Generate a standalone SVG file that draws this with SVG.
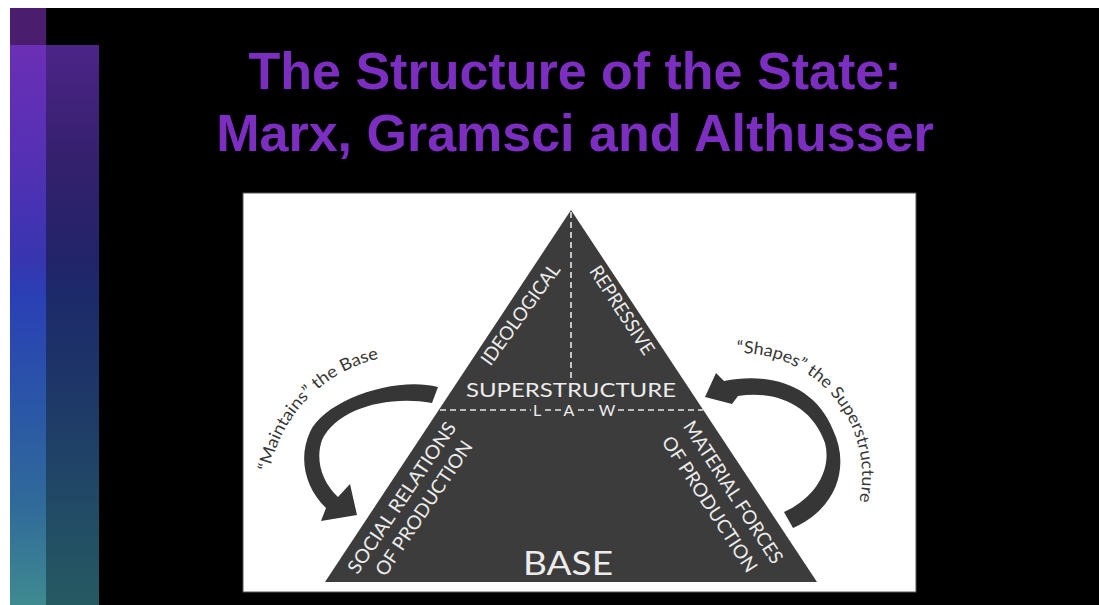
<svg xmlns="http://www.w3.org/2000/svg" width="1099" height="605" viewBox="0 0 1099 605">
  <style>
    .title { font-family: "Liberation Sans", Arial, sans-serif; font-weight: bold; font-size: 52px; fill: #7b2ec0; text-anchor: middle; }
    .tri { font-family: Lato, "Open Sans", sans-serif; fill: #ececec; text-anchor: middle; }
    .lbl { font-size: 19px; }
    .arc { font-family: Lato, "Open Sans", sans-serif; font-size: 17px; fill: #383838; }
    .dash { stroke: #e6e6e6; stroke-width: 1.6; stroke-dasharray: 6 4; fill: none; }
    .arrow { fill: #363636; }
  </style>
  <defs>
    <linearGradient id="gBright" x1="0" y1="0" x2="0" y2="1">
      <stop offset="0" stop-color="#6b2fb5"/>
      <stop offset="0.2" stop-color="#5530b5"/>
      <stop offset="0.38" stop-color="#3835b0"/>
      <stop offset="0.45" stop-color="#2a40b5"/>
      <stop offset="0.63" stop-color="#2a55a8"/>
      <stop offset="0.82" stop-color="#306a9a"/>
      <stop offset="1" stop-color="#3f8a90"/>
    </linearGradient>
    <linearGradient id="gDark" x1="0" y1="0" x2="0" y2="1">
      <stop offset="0" stop-color="#4c2488"/>
      <stop offset="0.2" stop-color="#35206e"/>
      <stop offset="0.38" stop-color="#22246a"/>
      <stop offset="0.45" stop-color="#1c2a6a"/>
      <stop offset="0.63" stop-color="#1e3868"/>
      <stop offset="0.82" stop-color="#214a66"/>
      <stop offset="1" stop-color="#265a62"/>
    </linearGradient>
    <path id="arcLeft" d="M 269.6,471.5 A 144 144 0 0 1 411,355"/>
    <path id="arcRight" d="M 736.9,353 A 123 123 0 0 1 854.6,518.1"/>
  </defs>

  <rect x="0" y="0" width="1099" height="605" fill="#ffffff"/>
  <rect x="10" y="8" width="1089" height="597" fill="#000000"/>

  <g id="sidebar">
    <rect x="10" y="8" width="36" height="37" fill="#4a1d6e"/>
    <rect x="10" y="45" width="36" height="560" fill="url(#gBright)"/>
    <rect x="46" y="45" width="53" height="560" fill="url(#gDark)"/>
  </g>

  <g id="title">
    <text class="title" x="575" y="89">The Structure of the State:</text>
    <text class="title" x="575" y="151">Marx, Gramsci and Althusser</text>
  </g>

  <rect id="panel" x="243" y="193" width="673" height="399" fill="#ffffff" stroke="#555555" stroke-width="1"/>

  <g id="pyramid">
    <polygon points="571,210 325,582 817,582" fill="#3c3c3c"/>
    <line class="dash" x1="571" y1="212" x2="571" y2="380"/>
    <path class="dash" d="M 440,410 H 531 M 545,410 H 561 M 578,410 H 596 M 618,410 H 703"/>
  </g>

  <g id="superstructure">
    <text class="tri" x="571" y="397" font-size="20" textLength="210" lengthAdjust="spacingAndGlyphs">SUPERSTRUCTURE</text>
    <text class="tri" x="537" y="416" font-size="16">L</text>
    <text class="tri" x="569" y="416" font-size="16">A</text>
    <text class="tri" x="607" y="416" font-size="16">W</text>
  </g>

  <g id="ideological">
    <text class="tri lbl" transform="translate(520,314) rotate(-54)" x="0" y="7" textLength="120" lengthAdjust="spacingAndGlyphs">IDEOLOGICAL</text>
  </g>
  <g id="repressive">
    <text class="tri lbl" transform="translate(622.5,310) rotate(57)" x="0" y="7" textLength="102" lengthAdjust="spacingAndGlyphs">REPRESSIVE</text>
  </g>
  <g id="social-relations">
    <text class="tri lbl" transform="translate(401.5,497.5) rotate(-56)" x="0" y="7" textLength="178" lengthAdjust="spacingAndGlyphs">SOCIAL RELATIONS</text>
    <text class="tri lbl" transform="translate(423.5,508) rotate(-56)" x="0" y="7" textLength="158" lengthAdjust="spacingAndGlyphs">OF PRODUCTION</text>
  </g>
  <g id="material-forces">
    <text class="tri lbl" transform="translate(733.5,492) rotate(57)" x="0" y="7" textLength="166" lengthAdjust="spacingAndGlyphs">MATERIAL FORCES</text>
    <text class="tri lbl" transform="translate(710,504) rotate(57)" x="0" y="7" textLength="158" lengthAdjust="spacingAndGlyphs">OF PRODUCTION</text>
  </g>
  <g id="base">
    <text class="tri" x="568" y="575" font-size="32" textLength="90" lengthAdjust="spacingAndGlyphs">BASE</text>
  </g>

  <g id="connectors">
    <path class="arrow" d="M 438,387 C 395,376 325,400 310,432 C 298,458 305,488 326,508 L 321,521 L 357,515 L 350,484 L 338,497 C 322,482 315,460 322,440 C 336,410 385,395 432,403 Z"/>
    <path class="arrow" d="M 705,397 L 716,373 L 724,381 C 770,372 815,385 833,430 C 850,465 838,508 793,528 L 784,512 C 815,498 832,470 825,443 C 812,405 775,390 738,396 L 732,404 Z"/>
    <text class="arc"><textPath href="#arcLeft" textLength="166" lengthAdjust="spacingAndGlyphs">“Maintains” the Base</textPath></text>
    <text class="arc"><textPath href="#arcRight" textLength="221" lengthAdjust="spacingAndGlyphs">“Shapes” the Superstructure</textPath></text>
  </g>
</svg>
